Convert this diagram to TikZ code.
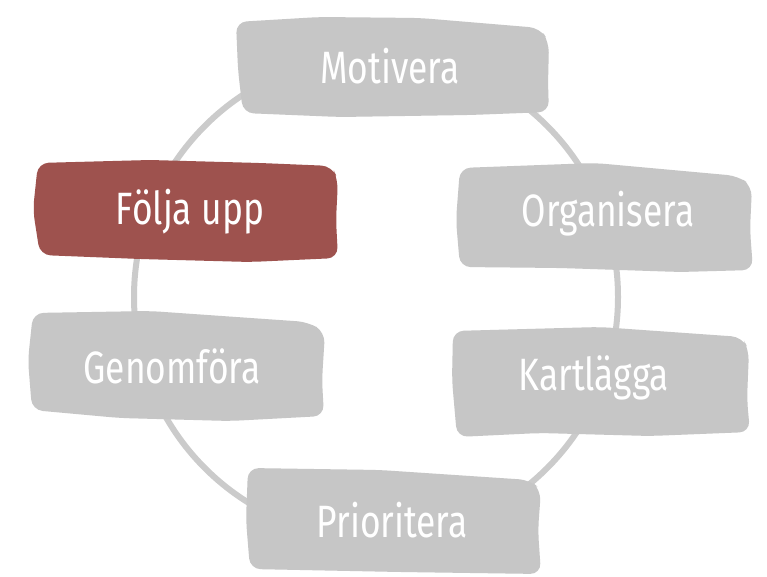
\documentclass[tikz,border=0pt]{standalone}
\usepackage{fontspec}
\newfontfamily\handfont[FakeStretch=0.78]{Fira Sans}
\definecolor{boxgray}{HTML}{C6C6C6}
\definecolor{boxred}{HTML}{9E524E}
\definecolor{ringgray}{HTML}{CBCBCB}
\begin{document}
\begin{tikzpicture}[x=0.75pt,y=-0.75pt,
  blob/.style={fill=boxgray, rounded corners=8pt},
  redblob/.style={fill=boxred, rounded corners=8pt},
  lbl/.style={text=white, font=\handfont\fontsize{34}{40}\selectfont, inner sep=0pt}]
\useasboundingbox (0,0) rectangle (767,577);
\fill[white] (0,0) rectangle (767,577);
\draw[ringgray, line width=4.5pt] (376,297) circle [radius=242];
% Motivera
\path[blob] (236,22) -- (320,17) -- (420,18) -- (540,28) -- (549,42) -- (548,85) -- (549,112) -- (470,115) -- (340,117) -- (243,113) -- (238,70) -- cycle;
% Följa upp
\path[redblob] (38,163) -- (150,160) -- (260,163) -- (332,166) -- (338,180) -- (336,220) -- (338,258) -- (250,262) -- (140,259) -- (40,255) -- (33,210) -- cycle;
% Organisera
\path[blob] (460,168) -- (595,163) -- (738,176) -- (752,186) -- (750,230) -- (753,270) -- (680,272) -- (560,268) -- (460,267) -- (456,220) -- cycle;
% Kartlägga
\path[blob] (453,331) -- (600,327) -- (742,337) -- (749,350) -- (747,400) -- (750,432) -- (650,436) -- (540,433) -- (457,437) -- (452,380) -- cycle;
% Genomföra
\path[blob] (33,313) -- (150,311) -- (308,322) -- (325,332) -- (322,380) -- (324,416) -- (230,421) -- (120,418) -- (32,410) -- (28,360) -- cycle;
% Prioritera
\path[blob] (248,468) -- (380,470) -- (530,480) -- (541,490) -- (538,530) -- (541,574) -- (400,572) -- (250,569) -- (246,520) -- cycle;
\node[lbl] (motivera) at (390,66) {Motivera};
\node[lbl] (folja) at (190,212) {Följa upp};
\node[lbl] (organisera) at (608,214) {Organisera};
\node[lbl] (kartlagga) at (594,378) {Kartlägga};
\node[lbl] (genomfora) at (172,366) {Genomföra};
\node[lbl] (prioritera) at (392,520) {Prioritera};
\end{tikzpicture}
\end{document}
